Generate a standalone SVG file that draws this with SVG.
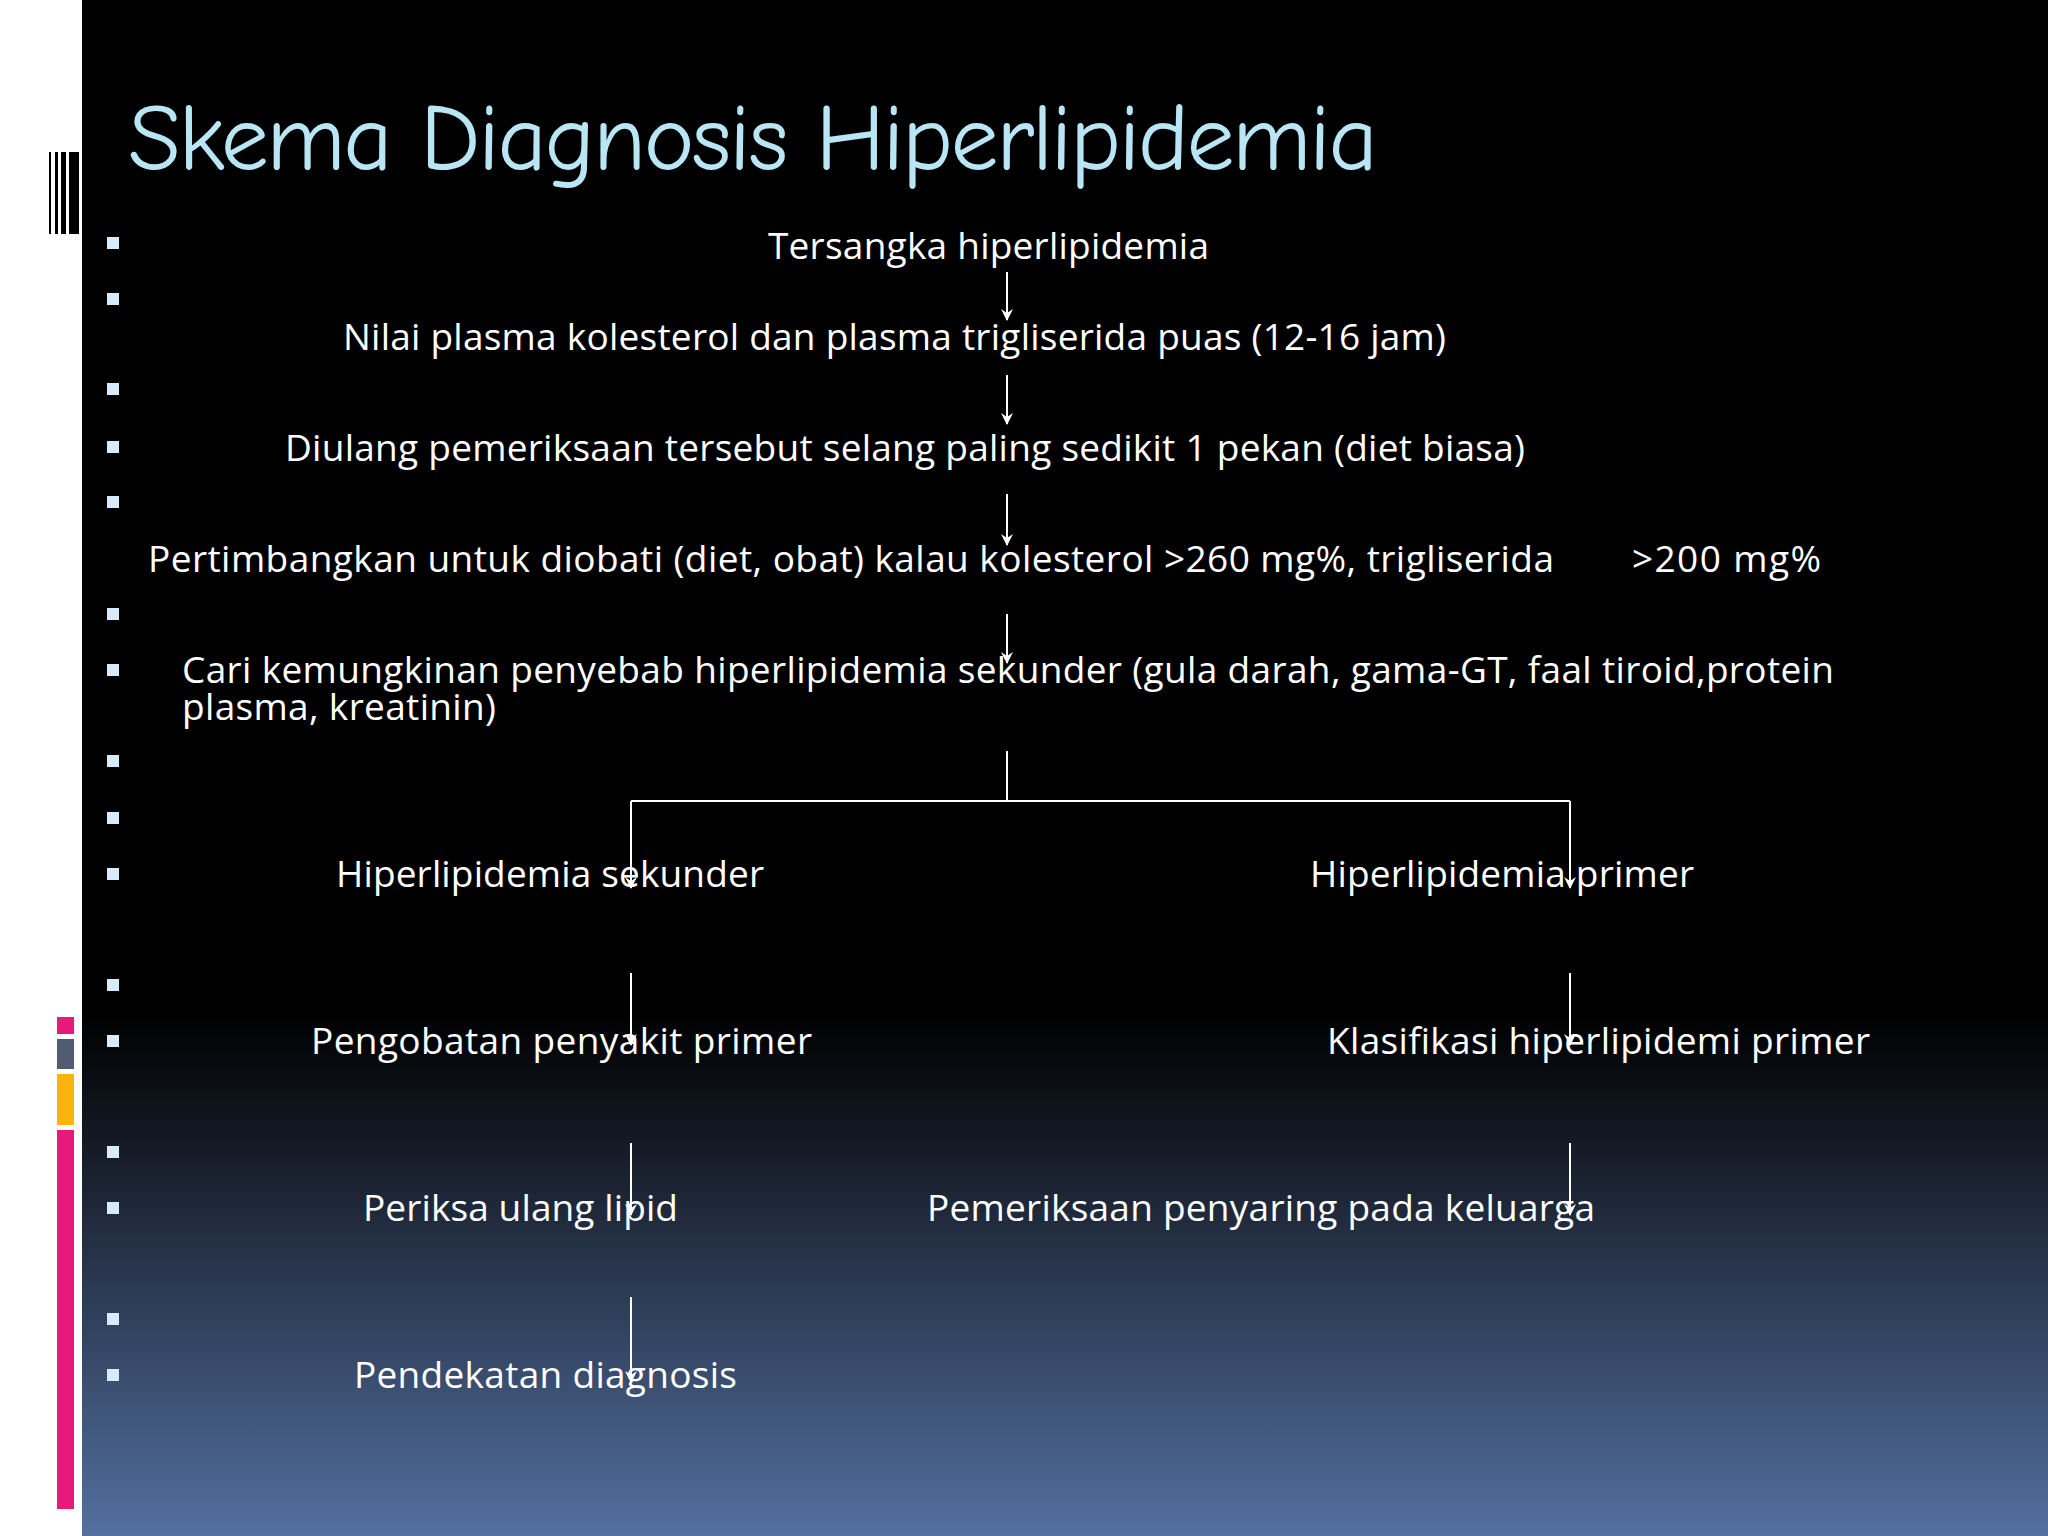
<svg xmlns="http://www.w3.org/2000/svg" width="2048" height="1536" viewBox="0 0 2048 1536">
<defs>
<linearGradient id="bg" x1="0" y1="0" x2="0" y2="1">
<stop offset="0" stop-color="#000"/><stop offset="0.66" stop-color="#000"/><stop offset="0.75" stop-color="#161c28"/><stop offset="1" stop-color="#5370a0"/>
</linearGradient>
<marker id="ah" markerWidth="12" markerHeight="12" refX="11" refY="6" orient="auto" markerUnits="userSpaceOnUse" viewBox="0 0 12 12"><path d="M0,0 L12,6 L0,12 L4,6 Z" fill="#fff"/></marker>
</defs>
<style>
.t{font-family:"Open Sans","Lato",sans-serif;font-size:37px;fill:#fff}
.b{fill:#d8ebfb}
.c{stroke:#fff;stroke-width:2;fill:none}
.a{marker-end:url(#ah)}
</style>
<rect width="2048" height="1536" fill="#fff"/>
<rect x="82" y="0" width="1966" height="1536" fill="url(#bg)"/>
<g id="barcode" fill="#000"><rect x="49" y="152" width="2" height="82"/><rect x="55" y="152" width="3" height="82"/><rect x="61" y="152" width="5" height="82"/><rect x="69" y="152" width="10" height="82"/></g>
<g id="bars"><rect x="57" y="1017" width="17" height="17" fill="#e8197b"/><rect x="57" y="1039" width="17" height="30" fill="#515c70"/><rect x="57" y="1074" width="17" height="51" fill="#fbb40b"/><rect x="57" y="1130" width="17" height="379" fill="#e8197b"/></g>
<text id="title" x="128" y="170" font-family="'Comic Neue','Comic Sans MS','Lato',sans-serif" font-size="96" fill="#b8e6f5" textLength="1250">Skema Diagnosis Hiperlipidemia</text>
<g id="bullets" class="b">
<rect x="107" y="237" width="12" height="12"/><rect x="107" y="293" width="12" height="12"/><rect x="107" y="383" width="12" height="12"/><rect x="107" y="441" width="12" height="12"/><rect x="107" y="496" width="12" height="12"/><rect x="107" y="608" width="12" height="12"/><rect x="107" y="664" width="12" height="12"/><rect x="107" y="755" width="12" height="12"/><rect x="107" y="812" width="12" height="12"/><rect x="107" y="868" width="12" height="12"/><rect x="107" y="979" width="12" height="12"/><rect x="107" y="1035" width="12" height="12"/><rect x="107" y="1146" width="12" height="12"/><rect x="107" y="1202" width="12" height="12"/><rect x="107" y="1313" width="12" height="12"/><rect x="107" y="1369" width="12" height="12"/>
</g>
<g id="n1"><text class="t" x="768" y="259" textLength="441">Tersangka hiperlipidemia</text></g>
<g id="n2"><text class="t" x="343" y="350" textLength="1103">Nilai plasma kolesterol dan plasma trigliserida puas (12-16 jam)</text></g>
<g id="n3"><text class="t" x="285" y="461" textLength="1240">Diulang pemeriksaan tersebut selang paling sedikit 1 pekan (diet biasa)</text></g>
<g id="n4"><text class="t" x="148" y="572" textLength="1406">Pertimbangkan untuk diobati (diet, obat) kalau kolesterol &gt;260 mg%, trigliserida</text><text class="t" x="1632" y="572" textLength="189">&gt;200 mg%</text></g>
<g id="n5"><text class="t" x="182" y="683" textLength="1652">Cari kemungkinan penyebab hiperlipidemia sekunder (gula darah, gama-GT, faal tiroid,protein</text><text class="t" x="182" y="720" textLength="314">plasma, kreatinin)</text></g>
<g id="n6"><text class="t" x="336" y="887" textLength="428">Hiperlipidemia sekunder</text></g>
<g id="n7"><text class="t" x="1310" y="887" textLength="384">Hiperlipidemia primer</text></g>
<g id="n8"><text class="t" x="311" y="1054" textLength="501">Pengobatan penyakit primer</text></g>
<g id="n9"><text class="t" x="1327" y="1054" textLength="543">Klasifikasi hiperlipidemi primer</text></g>
<g id="n10"><text class="t" x="363" y="1221" textLength="315">Periksa ulang lipid</text></g>
<g id="n11"><text class="t" x="927" y="1221" textLength="668">Pemeriksaan penyaring pada keluarga</text></g>
<g id="n12"><text class="t" x="354" y="1388" textLength="383">Pendekatan diagnosis</text></g>
<g id="connectors" class="c">
<line class="a" x1="1007" y1="272" x2="1007" y2="320"/>
<line class="a" x1="1007" y1="375" x2="1007" y2="424"/>
<line class="a" x1="1007" y1="494" x2="1007" y2="545"/>
<line class="a" x1="1007" y1="614" x2="1007" y2="663"/>
<line x1="1007" y1="751" x2="1007" y2="801"/>
<line x1="631" y1="801" x2="1570" y2="801"/>
<line class="a" x1="631" y1="801" x2="631" y2="888"/>
<line class="a" x1="1570" y1="801" x2="1570" y2="888"/>
<line class="a" x1="631" y1="973" x2="631" y2="1045"/>
<line class="a" x1="1570" y1="973" x2="1570" y2="1045"/>
<line class="a" x1="631" y1="1143" x2="631" y2="1215"/>
<line class="a" x1="1570" y1="1143" x2="1570" y2="1215"/>
<line class="a" x1="631" y1="1297" x2="631" y2="1382"/>
</g>
</svg>
